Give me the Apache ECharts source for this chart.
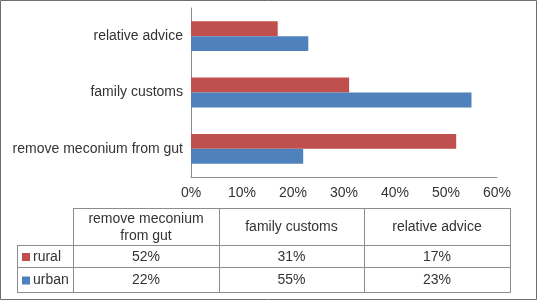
<!DOCTYPE html>
<html>
<head>
<meta charset="utf-8">
<script src="https://cdn.jsdelivr.net/npm/echarts@6/dist/echarts.min.js"></script>
<style>
  html, body { margin: 0; padding: 0; background: #fff; }
  #chart { width: 538px; height: 301px; }
</style>
</head>
<body>
<div id="chart"></div>
<script>
// categories, bottom to top on the y axis
const categories = ['remove meconium from gut', 'family customs', 'relative advice'];
const tableHeaders = ['remove meconium\nfrom gut', 'family customs', 'relative advice'];
const seriesNames = ['rural', 'urban'];
const rural = [52, 31, 17];
const urban = [22, 55, 23];
const xTicks = [0, 10, 20, 30, 40, 50, 60];

const colors = ['#C0504D', '#4F81BD'];
const textColor = '#333';
const fontFamily = 'Liberation Sans, Arial, sans-serif';

// data table layout
const colX = [73, 219, 364, 510];
const legendX = 17;
const rowY = [208, 245, 267, 292];

function buildTable() {
  const els = [];
  const ln = (x1, y1, x2, y2) => els.push({
    type: 'line',
    shape: { x1: x1, y1: y1, x2: x2, y2: y2 },
    style: { stroke: '#8c8c8c', lineWidth: 1 },
    silent: true
  });
  const tx = (x, y, s, align) => els.push({
    type: 'text',
    x: x, y: y,
    style: {
      text: s, fill: textColor, font: '14px ' + fontFamily,
      align: align || 'center', verticalAlign: 'middle', lineHeight: 17
    },
    silent: true
  });
  // horizontal rules
  ln(colX[0], rowY[0] + 0.5, colX[3] + 0.5, rowY[0] + 0.5);
  for (let i = 1; i < rowY.length; i++) ln(legendX, rowY[i] + 0.5, colX[3] + 0.5, rowY[i] + 0.5);
  // vertical rules
  ln(legendX + 0.5, rowY[1], legendX + 0.5, rowY[3] + 0.5);
  colX.forEach(x => ln(x + 0.5, rowY[0], x + 0.5, rowY[3] + 0.5));

  // header
  tableHeaders.forEach((h, i) => tx((colX[i] + colX[i + 1]) / 2, (rowY[0] + rowY[1]) / 2 + 1, h));
  // rows
  [rural, urban].forEach((vals, r) => {
    const cy = (rowY[r + 1] + rowY[r + 2]) / 2 + 1;
    els.push({
      type: 'rect',
      shape: { x: legendX + 5, y: cy - 4, width: 8, height: 8 },
      style: { fill: colors[r] },
      silent: true
    });
    tx(legendX + 16, cy, seriesNames[r], 'left');
    vals.forEach((v, i) => tx((colX[i] + colX[i + 1]) / 2, cy, v + '%'));
  });
  // outer frame
  els.push({
    type: 'rect',
    shape: { x: 0.5, y: 0.5, width: 536, height: 299 },
    style: { fill: null, stroke: '#6e6e6e', lineWidth: 1 },
    silent: true
  });
  return els;
}

const myChart = echarts.init(document.getElementById('chart'));
const option = {
  animation: false,
  textStyle: { fontFamily: fontFamily },
  grid: { left: 191, right: 41, top: 8, bottom: 124, containLabel: false },
  xAxis: {
    type: 'value',
    min: xTicks[0],
    max: xTicks[xTicks.length - 1],
    interval: xTicks[1] - xTicks[0],
    axisLine: { show: true, lineStyle: { color: '#8c8c8c' } },
    axisTick: { show: false },
    splitLine: { show: false },
    axisLabel: { formatter: '{value}%', color: textColor, fontSize: 14, margin: 9 }
  },
  yAxis: {
    type: 'category',
    data: categories,
    axisLine: { show: true, lineStyle: { color: '#8c8c8c' } },
    axisTick: { show: false },
    axisLabel: { color: textColor, fontSize: 14, margin: 8 }
  },
  series: [
    {
      name: seriesNames[0], type: 'bar', data: rural,
      itemStyle: { color: colors[0] },
      barGap: '0%', barCategoryGap: '47%'
    },
    {
      name: seriesNames[1], type: 'bar', data: urban,
      itemStyle: { color: colors[1] },
      barGap: '0%', barCategoryGap: '47%'
    }
  ],
  graphic: buildTable()
};
myChart.setOption(option);
</script>
</body>
</html>
